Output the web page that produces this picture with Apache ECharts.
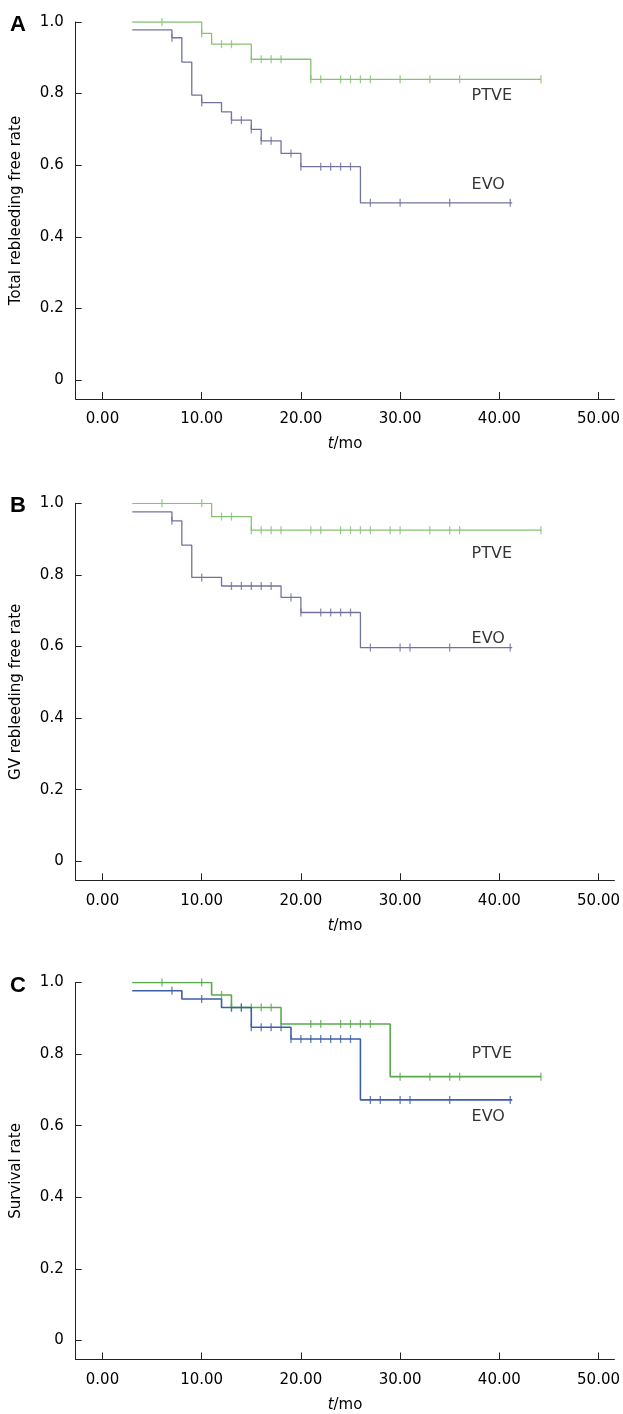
<!DOCTYPE html>
<html><head><meta charset="utf-8">
<script src="https://cdn.jsdelivr.net/npm/echarts@6/dist/echarts.min.js"></script>
<style>html,body{margin:0;padding:0;background:#fff}#c{width:623px;height:1414px}</style>
</head><body><div id="c"></div>
<script>
// ---- data ----
const xTicks = [0, 10, 20, 30, 40, 50];
const yTicks = [0, 0.2, 0.4, 0.6, 0.8, 1.0];
const panelLetters = ['A', 'B', 'C'];
const yNames = ['Total rebleeding free rate', 'GV rebleeding free rate', 'Survival rate'];
const groupNames = ['PTVE', 'EVO'];

// Panel A
const aPtveSteps = [[3,1.0],[10,0.968],[11,0.938],[15,0.896],[21,0.840],[44.2,0.840]];
const aPtveCensor = [6,10,12,13,15,16,17,18,21,22,24,25,26,27,30,33,36,44.2];
const aEvoSteps = [[3,0.978],[7,0.956],[8,0.888],[9,0.796],[10,0.775],[12,0.749],[13,0.726],[15,0.700],[16,0.668],[18,0.633],[20,0.596],[26,0.495],[41.3,0.495]];
const aEvoCensor = [7,10,13,14,15,16,17,19,20,22,23,24,25,27,30,35,41.1];
const aLabelPos = [[37.2,0.794],[37.2,0.545]];

// Panel B
const bPtveSteps = [[3,1.0],[11,0.963],[15,0.925],[44.2,0.925]];
const bPtveCensor = [6,10,12,13,15,16,17,18,21,22,24,25,26,27,29,30,33,35,36,44.2];
const bEvoSteps = [[3,0.976],[7,0.951],[8,0.883],[9,0.793],[12,0.769],[18,0.737],[20,0.695],[26,0.597],[41.3,0.597]];
const bEvoCensor = [7,10,13,14,15,16,17,19,20,22,23,24,25,27,30,31,35,41.1];
const bLabelPos = [[37.2,0.858],[37.2,0.62]];

// Panel C
const cPtveSteps = [[3,1.0],[11,0.965],[13,0.930],[18,0.884],[29,0.737],[44.2,0.737]];
const cPtveCensor = [6,10,12,13,14,15,16,17,21,22,24,25,26,27,30,33,35,36,44.2];
const cEvoSteps = [[3,0.977],[8,0.954],[12,0.930],[15,0.875],[19,0.842],[26,0.672],[41.3,0.672]];
const cEvoCensor = [7,10,13,14,15,16,17,18,19,20,21,22,23,24,25,27,28,30,31,35,41.1];
const cLabelPos = [[37.2,0.80],[37.2,0.624]];

// ---- build ----
const panels = [
  {ptve:aPtveSteps, ptveC:aPtveCensor, evo:aEvoSteps, evoC:aEvoCensor, lab:aLabelPos, colors:['#86c274','#72729e'], top:22},
  {ptve:bPtveSteps, ptveC:bPtveCensor, evo:bEvoSteps, evoC:bEvoCensor, lab:bLabelPos, colors:['#86c274','#72729e'], top:503.3},
  {ptve:cPtveSteps, ptveC:cPtveCensor, evo:cEvoSteps, evoC:cEvoCensor, lab:cLabelPos, colors:['#58aa4c','#3e5ea6'], top:982.5}
];
function kmAt(steps, t){
  let v = steps[0][1];
  for (const s of steps) { if (s[0] <= t + 1e-9) v = s[1]; }
  return v;
}
const FONT = 'DejaVu Sans';
const TXT = '#000';
const grids = [], xAxes = [], yAxes = [], series = [], graphics = [];
panels.forEach((p, i) => {
  grids.push({left: 75.7, width: 546.3, top: p.top, height: 377});
  xAxes.push({
    type: 'value', gridIndex: i, min: -2.7, max: 51.6,
    axisLine: {onZero: false, lineStyle: {color: '#222', width: 1}},
    axisTick: {inside: true, length: 7, customValues: xTicks, lineStyle: {color: '#222'}},
    axisLabel: {customValues: xTicks, formatter: v => v.toFixed(2), color: TXT, fontFamily: FONT, fontSize: 15, margin: 13},
    splitLine: {show: false},
    name: '{i|t}/mo', nameLocation: 'middle', nameGap: 38,
    nameTextStyle: {color: TXT, fontFamily: FONT, fontSize: 15, verticalAlign: 'top',
      rich: {i: {fontStyle: 'italic', fontFamily: FONT, fontSize: 15, color: TXT, verticalAlign: 'top'}}}
  });
  yAxes.push({
    type: 'value', gridIndex: i, min: -0.0531, max: 1.0,
    axisLine: {show: true, onZero: false, lineStyle: {color: '#222', width: 1}},
    axisTick: {show: true, inside: true, length: 6, customValues: yTicks, lineStyle: {color: '#222'}},
    axisLabel: {customValues: yTicks, formatter: v => (Math.abs(v) < 1e-9 ? '0' : v.toFixed(1)), color: TXT, fontFamily: FONT, fontSize: 15, margin: 12},
    splitLine: {show: false},
    name: yNames[i], nameLocation: 'middle', nameGap: 52,
    nameTextStyle: {color: TXT, fontFamily: FONT, fontSize: 15}
  });
  const groups = [[p.ptve, p.ptveC], [p.evo, p.evoC]];
  groups.forEach((g, k) => {
    series.push({
      type: 'line', xAxisIndex: i, yAxisIndex: i, step: 'end', data: g[0],
      showSymbol: false, symbol: 'none', silent: true, animation: false,
      lineStyle: {color: p.colors[k], width: i === 2 ? 1.6 : 1.3}
    });
    series.push({
      type: 'scatter', xAxisIndex: i, yAxisIndex: i, animation: false, silent: true,
      data: g[1].map(t => [t, kmAt(g[0], t)]),
      symbol: 'rect', symbolSize: [1.3, 8], itemStyle: {color: p.colors[k]}
    });
    series.push({
      type: 'scatter', xAxisIndex: i, yAxisIndex: i, animation: false, silent: true,
      data: [p.lab[k]], symbolSize: 0,
      label: {show: true, position: 'right', distance: 0, formatter: groupNames[k], color: TXT, fontFamily: FONT, fontSize: 16}
    });
  });
  graphics.push({type: 'text', left: 10, top: p.top - 8, style: {text: panelLetters[i], font: 'bold 22px "Liberation Sans"', fill: TXT}});
});
const chart = echarts.init(document.getElementById('c'), null, {renderer: 'canvas'});
chart.setOption({animation: false, grid: grids, xAxis: xAxes, yAxis: yAxes, series: series, graphic: graphics});
</script></body></html>
